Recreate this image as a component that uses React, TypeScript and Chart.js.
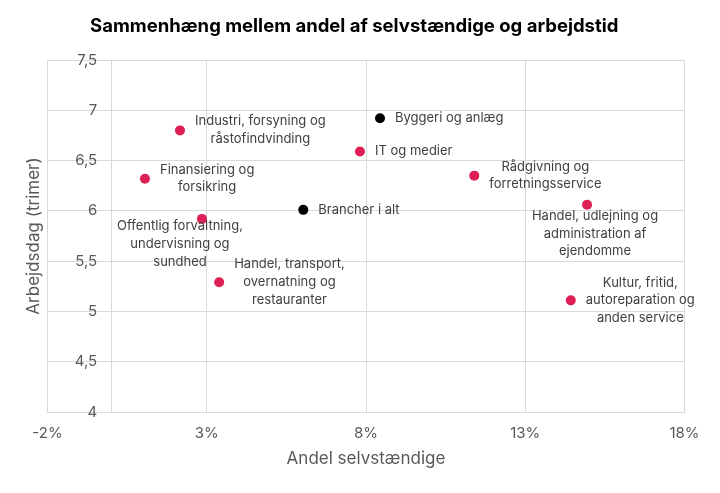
import React, { useEffect, useRef } from 'react';
import { Chart, registerables } from 'chart.js';

Chart.register(...registerables);

// ---- Data ----
const categories = [
  'Industri, forsyning og råstofindvinding',
  'Finansiering og forsikring',
  'Offentlig forvaltning, undervisning og sundhed',
  'Handel, transport, overnatning og restauranter',
  'Brancher i alt',
  'IT og medier',
  'Byggeri og anlæg',
  'Rådgivning og forretningsservice',
  'Handel, udlejning og administration af ejendomme',
  'Kultur, fritid, autoreparation og anden service',
];
const labelLines = [
  ['Industri, forsyning og', 'råstofindvinding'],
  ['Finansiering og', 'forsikring'],
  ['Offentlig forvaltning,', 'undervisning og', 'sundhed'],
  ['Handel, transport,', 'overnatning og', 'restauranter'],
  ['Brancher i alt'],
  ['IT og medier'],
  ['Byggeri og anlæg'],
  ['Rådgivning og', 'forretningsservice'],
  ['Handel, udlejning og', 'administration af', 'ejendomme'],
  ['Kultur, fritid,', 'autoreparation og', 'anden service'],
];
const shareSelfEmployed = [2.16, 1.06, 2.85, 3.39, 6.03, 7.81, 8.44, 11.4, 14.94, 14.43];
const workdayHours = [6.8, 6.32, 5.92, 5.29, 6.01, 6.59, 6.92, 6.35, 6.06, 5.11];
const isHighlightedBlack = [false, false, false, false, true, false, true, false, false, false];
const xTicks = [-2, 0, 3, 8, 13, 18];
const yTicks = [4, 4.5, 5, 5.5, 6, 6.5, 7, 7.5];

// ---- Styles ----
const RED = '#DD1F55';
const BLACK = '#000000';
const GRID = '#d9d9d9';
const AXIS_TEXT = '#595959';
const LABEL_TEXT = '#404040';
const FONT = 'Inter';
// label placement: 'right' = to the right of the point, or centered with offset
const labelPlacement: Array<{ mode: 'right' } | { mode: 'center'; dx: number; dy: number }> = [
  { mode: 'right' },
  { mode: 'right' },
  { mode: 'center', dx: -22, dy: 25 },
  { mode: 'right' },
  { mode: 'right' },
  { mode: 'right' },
  { mode: 'right' },
  { mode: 'right' },
  { mode: 'center', dx: 8, dy: 29 },
  { mode: 'right' },
];

const fmtNum = (v: number) => String(v).replace('.', ',');

const labelPlugin = {
  id: 'pointLabels',
  afterDatasetsDraw(chart: any) {
    const ctx = chart.ctx;
    const meta = chart.getDatasetMeta(0);
    ctx.save();
    ctx.font = `13px ${FONT}`;
    ctx.fillStyle = LABEL_TEXT;
    ctx.textBaseline = 'middle';
    ctx.textAlign = 'center';
    const lh = 17.7;
    meta.data.forEach((pt: any, i: number) => {
      const lines = labelLines[i];
      const place = labelPlacement[i];
      const widths = lines.map((l) => ctx.measureText(l).width);
      const maxW = Math.max(...widths);
      let cx: number;
      let cy: number;
      if (place.mode === 'right') {
        cx = pt.x + 15 + maxW / 2;
        cy = pt.y;
      } else {
        cx = pt.x + place.dx;
        cy = pt.y + place.dy;
      }
      const top = cy - ((lines.length - 1) * lh) / 2;
      lines.forEach((l, j) => ctx.fillText(l, cx, top + j * lh));
    });
    ctx.restore();
  },
};

const yLabelPlugin = {
  id: 'yTickLabels',
  afterDraw(chart: any) {
    const ctx = chart.ctx;
    const xs = chart.scales.x;
    const ys = chart.scales.y;
    const x0 = xs.getPixelForValue(0) - 14;
    ctx.save();
    ctx.font = `15px ${FONT}`;
    ctx.fillStyle = AXIS_TEXT;
    ctx.textAlign = 'right';
    ctx.textBaseline = 'middle';
    yTicks.forEach((v) => ctx.fillText(fmtNum(v), x0, ys.getPixelForValue(v)));
    ctx.restore();
  },
};

export default function App() {
  const ref = useRef<HTMLCanvasElement>(null);
  useEffect(() => {
    if (!ref.current) return;
    const chart = new Chart(ref.current, {
      type: 'scatter',
      data: {
        datasets: [
          {
            label: 'Brancher',
            data: shareSelfEmployed.map((x, i) => ({ x, y: workdayHours[i] })),
            pointBackgroundColor: isHighlightedBlack.map((b) => (b ? BLACK : RED)),
            pointBorderWidth: 0,
            pointRadius: 5,
          },
        ],
      },
      options: {
        responsive: false,
        animation: false,
        layout: { padding: { left: 24, right: 35.5, top: 0, bottom: 0 } },
        plugins: {
          legend: { display: false },
          tooltip: { enabled: false },
          title: {
            display: true,
            text: 'Sammenhæng mellem andel af selvstændige og arbejdstid',
            color: '#000',
            font: { family: FONT, size: 18.5, weight: 'bold' },
            padding: { top: 15, bottom: 22.8 },
          },
        },
        scales: {
          x: {
            type: 'linear',
            min: -2,
            max: 18,
            afterBuildTicks: (scale: any) => {
              scale.ticks = xTicks.map((v) => ({ value: v }));
            },
            afterFit: (scale: any) => {
              scale.height = 81;
            },
            ticks: {
              color: AXIS_TEXT,
              font: { family: FONT, size: 15 },
              padding: 12,
              callback: (v: any) => (v === 0 ? '' : `${v}%`),
              maxRotation: 0,
            },
            grid: { color: GRID, drawTicks: false, lineWidth: 1 },
            border: { color: GRID },
            title: {
              display: true,
              text: 'Andel selvstændige',
              color: AXIS_TEXT,
              font: { family: FONT, size: 17 },
              padding: { top: 0, bottom: 24 },
            },
          },
          y: {
            type: 'linear',
            min: 4,
            max: 7.5,
            ticks: { stepSize: 0.5, display: false },
            afterFit: (scale: any) => {
              scale.width = 23.5;
            },
            grid: { color: GRID, drawTicks: false },
            border: { color: GRID },
            title: {
              display: true,
              text: 'Arbejdsdag (trimer)',
              color: AXIS_TEXT,
              font: { family: FONT, size: 17 },
              padding: 0,
            },
          },
        },
      },
      plugins: [labelPlugin, yLabelPlugin],
    });
    return () => chart.destroy();
  }, []);
  return (
    <div style={{ position: 'fixed', left: 0, top: 0, width: 720, height: 493, background: '#fff' }}>
      <canvas ref={ref} width={720} height={493} style={{ display: 'block' }} />
    </div>
  );
}
